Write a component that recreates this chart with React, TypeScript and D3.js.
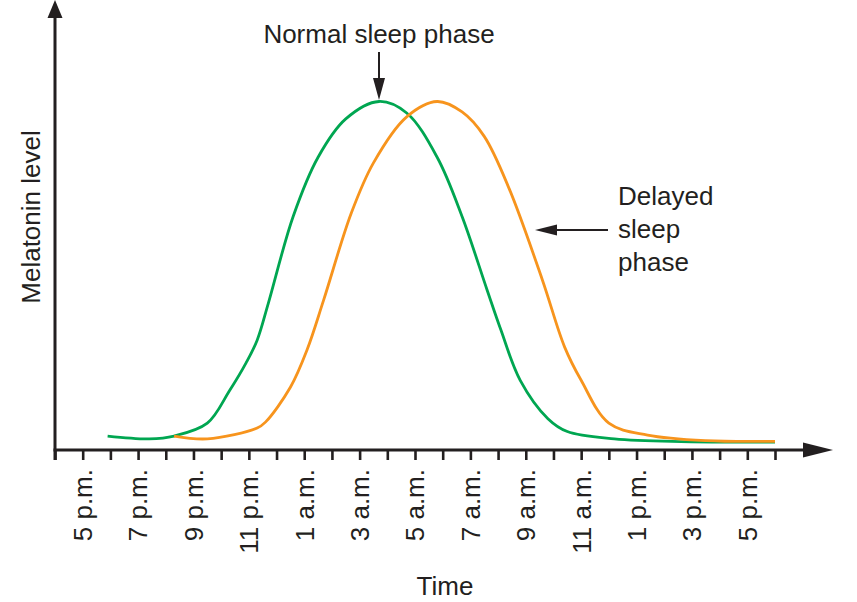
import React, { useEffect, useRef } from "react";
import * as d3 from "d3";

// Hours counted from midnight of the first day (24 = midnight, 41 = 5 p.m. next day)
const axisStartHour = 16;
const axisEndHour = 42;

const labelHours = [17, 19, 21, 23, 25, 27, 29, 31, 33, 35, 37, 39, 41];
const timeLabels = [
  "5 p.m.", "7 p.m.", "9 p.m.", "11 p.m.", "1 a.m.", "3 a.m.", "5 a.m.",
  "7 a.m.", "9 a.m.", "11 a.m.", "1 p.m.", "3 p.m.", "5 p.m.",
];

// Normal sleep phase
const normalHours = [
  17.9, 19.4, 20.3, 21.5, 22.3, 22.9, 23.3, 23.7, 24.6, 25.5, 26.5, 27.7,
  28.7, 29.8, 30.7, 31.6, 32.1, 32.8, 33.8, 34.5, 36.2, 38.6, 42,
];
const normalLevels = [
  4, 3.2, 4, 7.7, 17, 25, 31.5, 42, 67, 84, 95, 100,
  96.7, 84, 67, 46, 34.5, 20, 9, 5.3, 3.2, 2.4, 2.3,
];

// Delayed sleep phase
const delayedHours = [
  20.3, 21.5, 23.3, 23.6, 24.5, 25.1, 25.7, 26.7, 27.5, 28.7, 29.8,
  30.7, 31.5, 32.4, 33.6, 34.4, 35.0, 36.0, 37.4, 39.5, 42,
];
const delayedLevels = [
  4, 3.2, 6.3, 8, 18, 28.7, 43, 68, 82.4, 95.6, 100,
  97, 90, 75, 48.8, 29.6, 20, 7.7, 4.3, 2.7, 2.5,
];

const INK = "#231f20";
const GREEN = "#00a651";
const ORANGE = "#f7941d";
const FONT = "'Liberation Sans', Arial, sans-serif";

const MelatoninChart: React.FC = () => {
  const svgRef = useRef<SVGSVGElement | null>(null);

  useEffect(() => {
    const width = 857;
    const height = 602;
    const svg = d3.select(svgRef.current);
    svg.selectAll("*").remove();
    svg.attr("width", width).attr("height", height);

    const x = d3.scaleLinear().domain([axisStartHour, axisEndHour]).range([55, 775]);
    const y = d3.scaleLinear().domain([0, 100]).range([450, 101.5]);
    const x0 = x(axisStartHour);
    const y0 = y(0);

    // Axes
    svg.append("line")
      .attr("x1", x0).attr("x2", x0)
      .attr("y1", 14).attr("y2", y0 + 10)
      .attr("stroke", INK).attr("stroke-width", 3);
    svg.append("path")
      .attr("d", `M${x0},0 L${x0 - 7.5},18 L${x0 + 7.5},18 Z`)
      .attr("fill", INK);

    svg.append("line")
      .attr("x1", x0 - 1.5).attr("x2", 808)
      .attr("y1", y0).attr("y2", y0)
      .attr("stroke", INK).attr("stroke-width", 3);
    svg.append("path")
      .attr("d", `M833,${y0} L803,${y0 - 7.5} L803,${y0 + 7.5} Z`)
      .attr("fill", INK);

    const xAxis = svg.append("g")
      .attr("transform", `translate(0, ${y0})`)
      .call(
        d3.axisBottom(x)
          .tickValues(d3.range(axisStartHour, axisEndHour + 1))
          .tickSize(10)
          .tickFormat(() => "")
      );
    xAxis.select(".domain").remove();
    xAxis.selectAll(".tick line").attr("stroke", INK).attr("stroke-width", 2.6);

    // Rotated time labels
    svg.append("g")
      .selectAll("text")
      .data(labelHours)
      .enter()
      .append("text")
      .attr("transform", (d) => `translate(${x(d)}, 469) rotate(-90)`)
      .attr("dy", "0.36em")
      .attr("text-anchor", "end")
      .attr("font-family", FONT)
      .attr("font-size", 26)
      .attr("fill", INK)
      .text((d, i) => timeLabels[i]);

    // Curves
    const line = d3.line<[number, number]>()
      .x((d) => x(d[0]))
      .y((d) => y(d[1]))
      .curve(d3.curveCatmullRom.alpha(0.5));

    const series = [
      { hours: normalHours, levels: normalLevels, color: GREEN },
      { hours: delayedHours, levels: delayedLevels, color: ORANGE },
    ];
    series.forEach((s) => {
      const pts = s.hours.map((h, i) => [h, s.levels[i]] as [number, number]);
      svg.append("path")
        .attr("d", line(pts))
        .attr("fill", "none")
        .attr("stroke", s.color)
        .attr("stroke-width", 2.8);
    });

    // Annotation: normal peak
    const peakIdx = d3.maxIndex(normalLevels);
    const px = x(normalHours[peakIdx]);
    const py = y(normalLevels[peakIdx]) - 1.5;
    svg.append("line")
      .attr("x1", px).attr("x2", px)
      .attr("y1", 52).attr("y2", py - 18)
      .attr("stroke", INK).attr("stroke-width", 2);
    svg.append("path")
      .attr("d", `M${px},${py} L${px - 6},${py - 22} L${px + 6},${py - 22} Z`)
      .attr("fill", INK);
    svg.append("text")
      .attr("x", px)
      .attr("y", 43)
      .attr("text-anchor", "middle")
      .attr("font-family", FONT)
      .attr("font-size", 26)
      .attr("fill", INK)
      .text("Normal sleep phase");

    // Annotation: delayed curve
    const ax = 535;
    const ay = 230;
    svg.append("line")
      .attr("x1", ax + 18).attr("x2", 608)
      .attr("y1", ay).attr("y2", ay)
      .attr("stroke", INK).attr("stroke-width", 2);
    svg.append("path")
      .attr("d", `M${ax},${ay} L${ax + 22},${ay - 5.5} L${ax + 22},${ay + 5.5} Z`)
      .attr("fill", INK);
    const delayedText = svg.append("text")
      .attr("font-family", FONT)
      .attr("font-size", 26)
      .attr("fill", INK);
    ["Delayed", "sleep", "phase"].forEach((t, i) => {
      delayedText.append("tspan")
        .attr("x", 618)
        .attr("y", 205 + i * 33)
        .text(t);
    });

    // Axis titles
    svg.append("text")
      .attr("transform", `translate(40, 217) rotate(-90)`)
      .attr("text-anchor", "middle")
      .attr("font-family", FONT)
      .attr("font-size", 26)
      .attr("fill", INK)
      .text("Melatonin level");

    svg.append("text")
      .attr("x", 445)
      .attr("y", 595)
      .attr("text-anchor", "middle")
      .attr("font-family", FONT)
      .attr("font-size", 26)
      .attr("fill", INK)
      .text("Time");
  }, []);

  return (
    <svg
      ref={svgRef}
      style={{ position: "absolute", left: 0, top: 0, background: "#fff" }}
    ></svg>
  );
};

export default function App() {
  return <MelatoninChart />;
}
